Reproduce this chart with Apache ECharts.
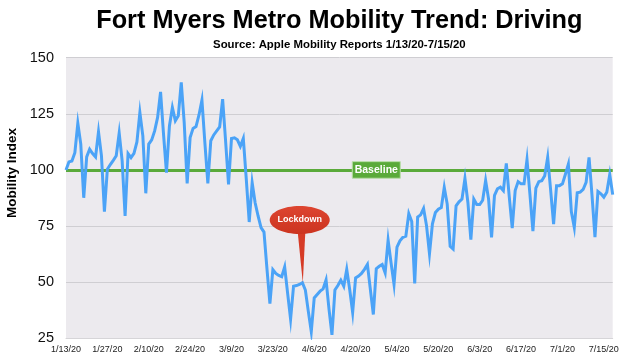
<!DOCTYPE html>
<html><head><meta charset="utf-8">
<script src="https://cdn.jsdelivr.net/npm/echarts@6/dist/echarts.min.js"></script>
<style>html,body{margin:0;padding:0;background:#fff}#c{width:633px;height:361px}</style>
</head><body><div id="c"></div>
<script>
const dates = [
"1/13/20","1/14/20","1/15/20","1/16/20","1/17/20","1/18/20","1/19/20","1/20/20","1/21/20","1/22/20","1/23/20","1/24/20","1/25/20","1/26/20","1/27/20","1/28/20","1/29/20","1/30/20","1/31/20",
"2/1/20","2/2/20","2/3/20","2/4/20","2/5/20","2/6/20","2/7/20","2/8/20","2/9/20","2/10/20","2/11/20","2/12/20","2/13/20","2/14/20","2/15/20","2/16/20","2/17/20","2/18/20","2/19/20","2/20/20","2/21/20","2/22/20","2/23/20","2/24/20","2/25/20","2/26/20","2/27/20","2/28/20","2/29/20",
"3/1/20","3/2/20","3/3/20","3/4/20","3/5/20","3/6/20","3/7/20","3/8/20","3/9/20","3/10/20","3/11/20","3/12/20","3/13/20","3/14/20","3/15/20","3/16/20","3/17/20","3/18/20","3/19/20","3/20/20","3/21/20","3/22/20","3/23/20","3/24/20","3/25/20","3/26/20","3/27/20","3/28/20","3/29/20","3/30/20","3/31/20",
"4/1/20","4/2/20","4/3/20","4/4/20","4/5/20","4/6/20","4/7/20","4/8/20","4/9/20","4/10/20","4/11/20","4/12/20","4/13/20","4/14/20","4/15/20","4/16/20","4/17/20","4/18/20","4/19/20","4/20/20","4/21/20","4/22/20","4/23/20","4/24/20","4/25/20","4/26/20","4/27/20","4/28/20","4/29/20","4/30/20",
"5/1/20","5/2/20","5/3/20","5/4/20","5/5/20","5/6/20","5/7/20","5/8/20","5/9/20","5/10/20","5/13/20","5/14/20","5/15/20","5/16/20","5/17/20","5/18/20","5/19/20","5/20/20","5/21/20","5/22/20","5/23/20","5/24/20","5/25/20","5/26/20","5/27/20","5/28/20","5/29/20","5/30/20","5/31/20",
"6/1/20","6/2/20","6/3/20","6/4/20","6/5/20","6/6/20","6/7/20","6/8/20","6/9/20","6/10/20","6/11/20","6/12/20","6/13/20","6/14/20","6/15/20","6/16/20","6/17/20","6/18/20","6/19/20","6/20/20","6/21/20","6/22/20","6/23/20","6/24/20","6/25/20","6/26/20","6/27/20","6/28/20","6/29/20","6/30/20",
"7/1/20","7/2/20","7/3/20","7/4/20","7/5/20","7/6/20","7/7/20","7/8/20","7/9/20","7/10/20","7/11/20","7/12/20","7/13/20","7/14/20","7/15/20","7/16/20","7/17/20","7/18/20"
];

const mobility = [
100,103.6,104,107.7,120.8,111.5,87.6,105.8,109.2,107.3,105.8,117,106.3,81.4,100.3,102.4,104.3,106.3,116.4,104,
79.5,107.3,105.5,107.4,112.5,125.6,115.2,89.6,111.5,113.4,117.4,123.4,134.8,116,98.8,119.6,127.8,121.9,124.1,139,
121.1,94,114.4,118.5,119.3,124.5,131.1,112,94,113,115.6,117.4,119.2,131.5,113,93.6,114,114.3,113.4,110.5,
114,96,76.8,94.3,85.4,79.5,74.3,72.3,56,40.5,55.6,53.9,53,52.4,56.8,45,33.5,48.2,48.5,49,
49.8,46.5,37,28,43,44.5,46,47,51,38,26.5,46.5,48.5,50.9,48.2,55.7,46.7,36.5,51.9,52.7,
53.9,55.7,57.9,46.7,35.6,56,57.1,57.9,54.2,68.7,58.6,49,65.6,68.4,70,70.5,80.5,77,49.4,79,
80,82.8,75.2,62.7,76,81,82.5,83.2,92.2,84.8,66,64.8,84,85.8,87,96.2,85.5,69,87,84.6,
84.6,86.5,95.3,87,70,88.7,91.6,92.3,90.8,102.9,88,74.1,90.8,94.8,93.8,93.8,104.6,89,72.7,91.9,
94.8,95.2,97.4,105.6,91,75.9,93,93,93.8,98.1,102.6,81.5,74.4,89.8,90.1,91.3,94.5,105.6,88.7,70.1,
90.4,89.4,87.9,90.1,98,89
];

const yTicks = [25, 50, 75, 100, 125, 150];
const labelEvery = 14;
const titleText = 'Fort Myers Metro Mobility Trend: Driving';
const subtitleText = 'Source: Apple Mobility Reports 1/13/20-7/15/20';
const yAxisName = 'Mobility Index';
const baselineValue = 100;
const baselineText = 'Baseline';
const baselineLabelIndex = 105;
const lockdownText = 'Lockdown';
const lockdownIndex = 80;

const FONT = '"Liberation Sans", Arial, Helvetica, sans-serif';
const chart = echarts.init(document.getElementById('c'), null, {renderer: 'canvas'});
chart.setOption({
  animation: false,
  backgroundColor: '#ffffff',
  grid: {left: 66, right: 20.3, top: 57.7, bottom: 22.7, show: true, backgroundColor: '#ECEAEE', borderWidth: 0},
  xAxis: {
    type: 'category', data: dates, boundaryGap: false,
    axisLine: {show: true, lineStyle: {color: '#D6D5D8'}},
    axisTick: {show: false},
    axisLabel: {interval: function (i) { return i % labelEvery === 0; }, hideOverlap: false,
      fontFamily: FONT, fontSize: 9, color: '#222', margin: 7},
    splitLine: {show: false}
  },
  yAxis: {
    type: 'value', min: yTicks[0], max: yTicks[yTicks.length - 1], interval: 25,
    axisLine: {show: false}, axisTick: {show: false},
    axisLabel: {fontFamily: FONT, fontSize: 14.5, color: '#111', margin: 12},
    splitLine: {lineStyle: {color: '#CFCED2', width: 1}}
  },
  series: [{
    type: 'line', data: mobility, symbol: 'none', z: 3,
    lineStyle: {color: '#4BA3F7', width: 3, join: 'miter'},
    itemStyle: {color: '#4BA3F7'},
    markLine: {silent: true, symbol: 'none', z: 1, data: [{yAxis: baselineValue}],
      lineStyle: {color: '#5AAA3A', width: 3, type: 'solid'}, label: {show: false}}
  }]
});

const tip = chart.convertToPixel({seriesIndex: 0}, [lockdownIndex, mobility[lockdownIndex]]);
const bl = chart.convertToPixel({seriesIndex: 0}, [baselineLabelIndex, baselineValue]);
const left = chart.convertToPixel({seriesIndex: 0}, [0, yTicks[0]]);
const right = chart.convertToPixel({seriesIndex: 0}, [dates.length - 1, yTicks[0]]);
const plotCx = (left[0] + right[0]) / 2;
const ex = tip[0] - 2.7, ey = tip[1] - 62.7;
const C = {align: 'center', verticalAlign: 'middle', textAlign: 'center', textVerticalAlign: 'middle'};

chart.setOption({
  graphic: [
    {type: 'text', x: plotCx, y: 21.5, z: 10,
     style: Object.assign({text: titleText, font: 'bold 25.3px ' + FONT, fill: '#000'}, C)},
    {type: 'text', x: plotCx, y: 45, z: 10,
     style: Object.assign({text: subtitleText, font: 'bold 11.4px ' + FONT, fill: '#000'}, C)},
    {type: 'text', x: 12, y: 173, rotation: Math.PI / 2, z: 10,
     style: Object.assign({text: yAxisName, font: 'bold 13.5px ' + FONT, fill: '#000'}, C)},
    {type: 'rect', z: 10, shape: {x: bl[0] - 24, y: bl[1] - 8.3, width: 48, height: 16.6},
     style: {fill: '#5AAA3A', stroke: '#B9DDA9', lineWidth: 1}},
    {type: 'text', z: 11, x: bl[0], y: bl[1] + 0.5,
     style: Object.assign({text: baselineText, font: 'bold 10.5px ' + FONT, fill: '#fff'}, C)},
    {type: 'polygon', z: 10, shape: {points: [[ex - 2, ey + 12], [ex + 5.6, ey + 12], [tip[0] + 0.4, tip[1]]]},
     style: {fill: '#D63B26'}},
    {type: 'ellipse', z: 10, shape: {cx: ex, cy: ey, rx: 30, ry: 14},
     style: {fill: new echarts.graphic.LinearGradient(0, 0, 0, 1, [{offset: 0, color: '#DD4530'}, {offset: 1, color: '#CC3420'}])}},
    {type: 'text', z: 11, x: ex, y: ey,
     style: Object.assign({text: lockdownText, font: 'bold 9px ' + FONT, fill: '#fff'}, C)}
  ]
});
</script>
</body></html>
